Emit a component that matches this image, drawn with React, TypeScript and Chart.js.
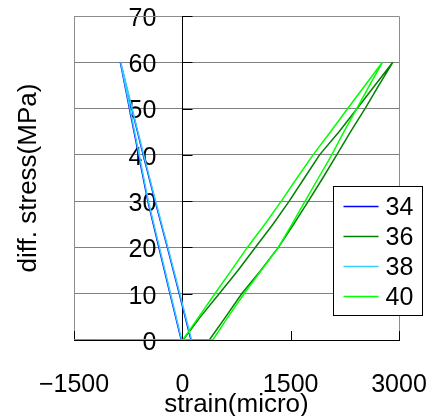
import React, { useEffect, useRef } from "react";
import { Chart, registerables } from "chart.js";

Chart.register(...registerables);

// ---- data ----
const seriesLabels = ["34", "36", "38", "40"];
const seriesColors = ["#0000FF", "#008000", "#33CCFF", "#00FF00"];

const strain34 = [-15, -170, -325, -478, -605, -732, -858, -700, -542, -377, -207, -42, 120, -1500];
const stress34 = [0, 10, 20, 30, 40, 50, 60, 50, 40, 30, 20, 10, 0, 0];

const strain36 = [10, 250, 510, 770, 1010, 1255, 1480, 1690, 1900, 2170, 2420, 2665, 2914,
  2720, 2530, 2330, 2138, 1945, 1745, 1540, 1330, 1085, 822, 600, 374, -1210];
const stress36 = [0, 5, 10, 15, 20, 25, 30, 35, 40, 45, 50, 55, 60,
  55, 50, 45, 40, 35, 30, 25, 20, 15, 10, 5, 0, 0];

const strain38 = [-9, -163, -317, -471, -597, -725, -853, -695, -535, -370, -200, -35, 128, -1500];
const stress38 = [0, 10, 20, 30, 40, 50, 60, 50, 40, 30, 20, 10, 0, 0];

const strain40 = [5, 228, 450, 676, 900, 1142, 1370, 1588, 1810, 2052, 2290, 2528, 2770,
  2592, 2415, 2238, 2069, 1884, 1700, 1517, 1330, 1092, 854, 633, 421, -1210];
const stress40 = [0, 5, 10, 15, 20, 25, 30, 35, 40, 45, 50, 55, 60,
  55, 50, 45, 40, 35, 30, 25, 20, 15, 10, 5, 0, 0];

const xTickValues = [-1500, 0, 1500, 3000];
const yTickValues = [0, 10, 20, 30, 40, 50, 60, 70];
const xTitle = "strain(micro)";
const yTitle = "diff. stress(MPa)";

const strains = [strain34, strain36, strain38, strain40];
const stresses = [stress34, stress36, stress38, stress40];

const FONT = "'Liberation Sans', Arial, sans-serif";

const zeroPadding = (s: any) => {
  s.paddingTop = 0;
  s.paddingBottom = 0;
  s.paddingLeft = 0;
  s.paddingRight = 0;
};

const framePlugin = {
  id: "frame",
  beforeDatasetsDraw(chart: any) {
    const { ctx, chartArea } = chart;
    const xs = chart.scales.x;
    const ys = chart.scales.y;
    ctx.save();
    // gray frame: left, top, right
    ctx.strokeStyle = "#8c8c8c";
    ctx.lineWidth = 1;
    ctx.beginPath();
    ctx.moveTo(Math.round(chartArea.left) + 0.5, Math.round(chartArea.bottom));
    ctx.lineTo(Math.round(chartArea.left) + 0.5, Math.round(chartArea.top) + 0.5);
    ctx.lineTo(Math.round(chartArea.right) + 0.5, Math.round(chartArea.top) + 0.5);
    ctx.lineTo(Math.round(chartArea.right) + 0.5, Math.round(chartArea.bottom));
    ctx.stroke();
    // vertical axis line at strain 0 and inward tick marks
    ctx.strokeStyle = "#000";
    ctx.beginPath();
    const x0 = Math.round(xs.getPixelForValue(0)) + 0.5;
    ctx.moveTo(x0, chartArea.top);
    ctx.lineTo(x0, chartArea.bottom);
    ys.ticks.forEach((t: any) => {
      const py = Math.round(ys.getPixelForValue(t.value)) + 0.5;
      ctx.moveTo(x0, py);
      ctx.lineTo(x0 + 10, py);
    });
    xs.ticks.forEach((t: any) => {
      const px = Math.round(xs.getPixelForValue(t.value)) + 0.5;
      ctx.moveTo(px, chartArea.bottom);
      ctx.lineTo(px, chartArea.bottom - 9);
    });
    ctx.stroke();
    ctx.restore();
  },
  afterDraw(chart: any) {
    const { ctx, chartArea } = chart;
    ctx.save();
    // y axis title
    ctx.font = `26px ${FONT}`;
    ctx.fillStyle = "#000";
    ctx.textAlign = "center";
    ctx.textBaseline = "middle";
    ctx.translate(29, (chartArea.top + chartArea.bottom) / 2);
    ctx.rotate(-Math.PI / 2);
    ctx.fillText(yTitle, 0, 0);
    ctx.restore();

    // legend
    ctx.save();
    const bx = Math.round(chartArea.right) - 66 + 0.5;
    const by = 186.5;
    const bw = 89;
    const bh = 129;
    ctx.fillStyle = "#fff";
    ctx.fillRect(bx, by, bw, bh);
    ctx.strokeStyle = "#000";
    ctx.lineWidth = 1;
    ctx.strokeRect(bx, by, bw, bh);
    ctx.font = `25px ${FONT}`;
    ctx.textAlign = "left";
    ctx.textBaseline = "middle";
    chart.data.datasets.forEach((ds: any, i: number) => {
      const ly = 206 + i * 30;
      ctx.strokeStyle = ds.borderColor;
      ctx.lineWidth = 1.5;
      ctx.beginPath();
      ctx.moveTo(bx + 10, ly + 0.5);
      ctx.lineTo(bx + 45, ly + 0.5);
      ctx.stroke();
      ctx.fillStyle = "#000";
      ctx.fillText(ds.label, bx + 52, ly + 2);
    });
    ctx.restore();
  },
};

export default function App() {
  const ref = useRef<HTMLCanvasElement>(null);
  useEffect(() => {
    if (!ref.current) return;
    const datasets = seriesLabels.map((label, i) => ({
      label,
      data: strains[i].map((x, j) => ({ x, y: stresses[i][j] })),
      borderColor: seriesColors[i],
      backgroundColor: seriesColors[i],
      borderWidth: 1.5,
      pointRadius: 0,
      showLine: true,
      fill: false,
      tension: 0,
      order: seriesLabels.length - i,
    }));
    const chart = new Chart(ref.current, {
      type: "scatter",
      data: { datasets },
      options: {
        animation: false,
        responsive: false,
        layout: { padding: { left: 74, right: 34, top: 16, bottom: 0 } },
        plugins: { legend: { display: false }, tooltip: { enabled: false } },
        scales: {
          x: {
            type: "linear",
            min: -1500,
            max: 3000,
            afterBuildTicks: (s: any) => {
              s.ticks = xTickValues.map((v) => ({ value: v }));
            },
            afterFit: (s: any) => {
              s.height = 76;
              zeroPadding(s);
            },
            grid: { display: true, drawOnChartArea: false, drawTicks: false },
            border: { display: true, color: "#000", width: 1 },
            ticks: {
              padding: 30,
              color: "#000",
              font: { family: FONT, size: 25 },
              maxRotation: 0,
              autoSkip: false,
              callback: (v: any) => (v < 0 ? "\u2212" + Math.abs(v) : String(v)),
            },
            title: {
              display: true,
              text: xTitle,
              color: "#000",
              font: { family: FONT, size: 26, lineHeight: 1 },
              padding: { top: 0, bottom: -2 },
            },
          },
          y: {
            type: "linear",
            // labels sit a little to the left of the strain-0 axis line
            position: { x: -360 } as any,
            min: 0,
            max: 70,
            afterBuildTicks: (s: any) => {
              s.ticks = yTickValues.map((v) => ({ value: v }));
            },
            afterFit: zeroPadding,
            grid: {
              drawTicks: false,
              color: (c: any) => (c.tick && c.tick.value === 0 ? "rgba(0,0,0,0)" : "#808080"),
            },
            border: { display: false },
            ticks: {
              padding: 0,
              labelOffset: 3,
              color: "#000",
              font: { family: FONT, size: 25 },
              callback: (v: any) => String(v),
            },
          },
        },
      },
      plugins: [framePlugin],
    });
    return () => chart.destroy();
  }, []);
  return (
    <div style={{ position: "absolute", left: 0, top: 0, width: 433, height: 416, background: "#fff" }}>
      <canvas ref={ref} width={433} height={416} style={{ display: "block" }} />
    </div>
  );
}
